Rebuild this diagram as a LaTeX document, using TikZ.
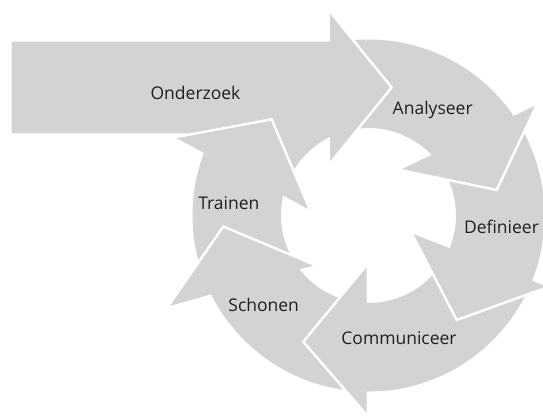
\documentclass[tikz,border=0pt]{standalone}
\usepackage{fontspec}
\setmainfont{Open Sans}
\usepackage{xcolor,tikz}
\definecolor{loopGray}{HTML}{D1D3D5}
\definecolor{loopText}{HTML}{231F20}
\tikzset{
  ring/.style={
    fill=loopGray, even odd rule,
  },
  head/.style={
    fill=loopGray, draw=none,
  },
  seam/.style={
    draw=white, line width=2.4pt, line join=miter,
  },
  step label/.style={
    font=\fontsize{17.5}{20}\selectfont, text=loopText,
    inner sep=0pt, anchor=base,
  },
}

\begin{document}
\begin{tikzpicture}[x=1pt, y=1pt]

% centre of the cycle sits at the origin
\def\ringOut{176}   % outer radius
\def\ringIn{87.5}   % inner radius
\def\feedY{128}     % axis of the incoming arrow
\useasboundingbox (-368.5,-200.5) rectangle (174.5,215.5);

% --- the ring itself (tails all hide in it) ---
\path[ring] (0,0) circle[radius=\ringOut] (0,0) circle[radius=\ringIn];

% Head 1: Analyseer
\coordinate (ana-o) at (168.2,110.5);
\coordinate (ana-t) at (128.2,25.5);
\coordinate (ana-i) at (31.5,45.5);
\fill[head] (ana-o) -- (ana-t) -- (ana-i) -- cycle;
\draw[seam] (ana-o) -- (ana-t) -- (ana-i);

% Head 2: Definieer
\coordinate (def-o) at (179.5,-71.5);
\coordinate (def-t) at (88.2,-104.5);
\coordinate (def-i) at (43.2,-17.8);
\fill[head] (def-o) -- (def-t) -- (def-i) -- cycle;
\draw[seam] (def-o) -- (def-t) -- (def-i);

% Head 3: Communiceer
\coordinate (com-o) at (-1.8,-199.5);
\coordinate (com-t) at (-65.2,-126.2);
\coordinate (com-i) at (-1.8,-49.5);
\fill[head] (com-o) -- (com-t) -- (com-i) -- cycle;
\draw[seam] (com-o) -- (com-t) -- (com-i);

% Head 4: Schonen
\coordinate (sch-o) at (-200.5,-91);
\coordinate (sch-t) at (-145.2,-11);
\coordinate (sch-i) at (-53.5,-49.5);
\fill[head] (sch-o) -- (sch-t) -- (sch-i) -- cycle;
\draw[seam] (sch-o) -- (sch-t) -- (sch-i);

% --- incoming arrow from the left ---
\coordinate (ond-top) at (-38.5,\feedY+75.8);
\coordinate (ond-tip) at (23.2,\feedY);
\coordinate (ond-bot) at (-38.5,\feedY-75.8);
\fill[head] (-356.8,\feedY+45.8) -- (-38.5,\feedY+45.8) -- (ond-top)
  -- (ond-tip) -- (ond-bot) -- (-38.5,\feedY-45.8)
  -- (-356.8,\feedY-45.8) -- cycle;
\draw[seam] (ond-top) -- (ond-tip) -- (ond-bot);

% Head 5: Trainen (lies over the incoming arrow)
\coordinate (tra-o) at (-193.5,78.2);
\coordinate (tra-t) at (-96.8,96.2);
\coordinate (tra-i) at (-58.5,5.5);
\fill[head] (tra-o) -- (tra-t) -- (tra-i) -- cycle;
\draw[seam] (tra-o) -- (tra-t) -- (tra-i);

% --- labels ---
\node[step label] (onderzoek) at (-173,116.2) {Onderzoek};
\node[step label] (analyseer) at (64.2,101.2) {Analyseer};
\node[step label] (definieer) at (133,-17.8) {Definieer};
\node[step label] (communiceer) at (30.5,-128.5) {Communiceer};
\node[step label] (schonen) at (-104.8,-95.5) {Schonen};
\node[step label] (trainen) at (-139.7,6.2) {Trainen};

\end{tikzpicture}
\end{document}
